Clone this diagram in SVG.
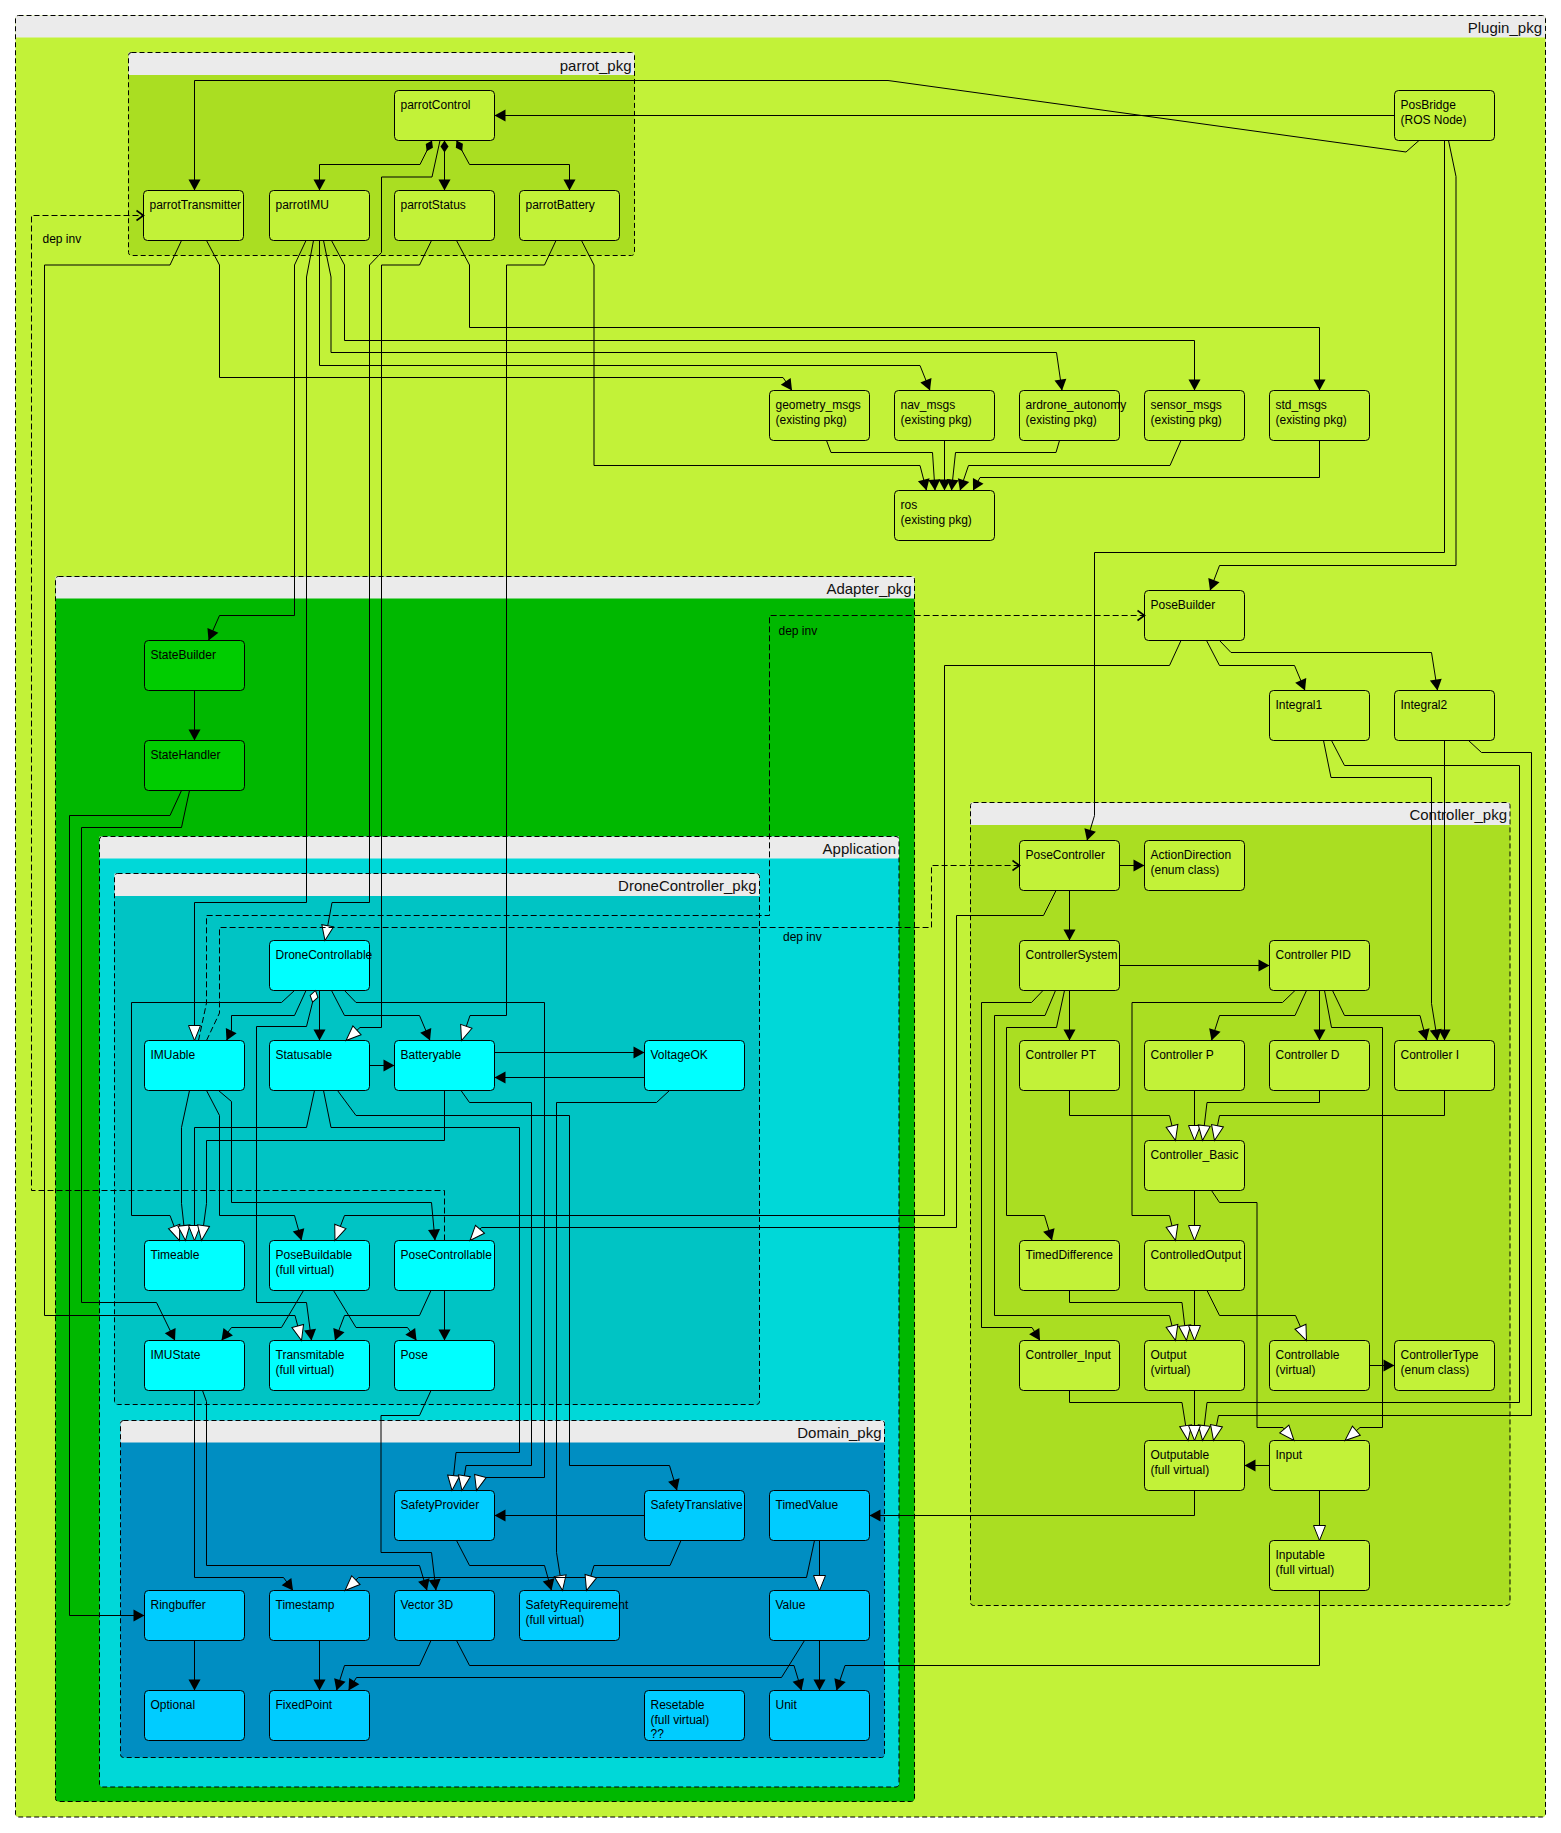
<svg xmlns="http://www.w3.org/2000/svg" width="1561" height="1833" viewBox="0 0 1561 1833">
<style>
.pb{stroke:none}
.ph{fill:#EBEBEB;stroke:none}
.pd{fill:none;stroke:#000;stroke-width:1;stroke-dasharray:5,3}
.pl{font-family:'Liberation Sans',Arial,sans-serif;font-size:15px;fill:#111;text-anchor:end}
.n rect{stroke:#000;stroke-width:1}
.n text{font-family:'Liberation Sans',Arial,sans-serif;font-size:12px;fill:#000}
.lime rect{fill:#C2F238}
.green rect{fill:#00CC00}
.cyan rect{fill:#00FFFF}
.blue rect{fill:#00CCFF}
#connectors path{fill:none;stroke:#000;stroke-width:1}
#connectors path.f{marker-end:url(#fa)}
#connectors path.o{marker-end:url(#oa)}
#connectors path.d{stroke-dasharray:6,3;marker-end:url(#sa)}
.lbl{font-family:'Liberation Sans',Arial,sans-serif;font-size:12px;fill:#000}
</style>
<defs>
<marker id="fa" markerWidth="12" markerHeight="12" refX="11" refY="6" orient="auto" markerUnits="userSpaceOnUse" overflow="visible"><path d="M0,0L11,6L0,12z" fill="#000"/></marker>
<marker id="oa" markerWidth="16" markerHeight="12" refX="15" refY="6" orient="auto" markerUnits="userSpaceOnUse" overflow="visible"><path d="M0,0L15,6L0,12z" fill="#fff" stroke="#000" stroke-width="1"/></marker>
<marker id="sa" markerWidth="8" markerHeight="10" refX="7" refY="5" orient="auto" markerUnits="userSpaceOnUse" overflow="visible"><path d="M0,0L7,5L0,10" fill="none" stroke="#000" stroke-width="1.6" stroke-dasharray="none"/></marker>
<marker id="fd" markerWidth="13" markerHeight="8" refX="0" refY="4" orient="auto" markerUnits="userSpaceOnUse" overflow="visible"><path d="M0,4L6,0L12,4L6,8z" fill="#000"/></marker>
<marker id="od" markerWidth="13" markerHeight="8" refX="0" refY="4" orient="auto" markerUnits="userSpaceOnUse" overflow="visible"><path d="M0,4L6,0L12,4L6,8z" fill="#fff" stroke="#000"/></marker>
</defs>
<rect width="1561" height="1833" fill="#fff"/>
<g id="packages">
<g id="Plugin_pkg"><rect class="pb" x="15.5" y="15.5" width="1530" height="1801.5" rx="3" fill="#C2F238"/><rect class="ph" x="15.5" y="15.5" width="1530" height="22"/><rect class="pd" x="15.5" y="15.5" width="1530" height="1801.5" rx="3"/><text class="pl" x="1542" y="33">Plugin_pkg</text></g>
<g id="parrot_pkg"><rect class="pb" x="128.5" y="52.5" width="506" height="203" rx="3" fill="#AADE22"/><rect class="ph" x="128.5" y="52.5" width="506" height="22.5"/><rect class="pd" x="128.5" y="52.5" width="506" height="203" rx="3"/><text class="pl" x="631.5" y="70.5">parrot_pkg</text></g>
<g id="Adapter_pkg"><rect class="pb" x="55.5" y="576.5" width="859" height="1225" rx="3" fill="#00B800"/><rect class="ph" x="55.5" y="576.5" width="859" height="22"/><rect class="pd" x="55.5" y="576.5" width="859" height="1225" rx="3"/><text class="pl" x="911.5" y="594">Adapter_pkg</text></g>
<g id="Application"><rect class="pb" x="99.5" y="836.5" width="799.5" height="950.5" rx="3" fill="#00D8D8"/><rect class="ph" x="99.5" y="836.5" width="799.5" height="22"/><rect class="pd" x="99.5" y="836.5" width="799.5" height="950.5" rx="3"/><text class="pl" x="896" y="854">Application</text></g>
<g id="DroneController_pkg"><rect class="pb" x="114.5" y="873.5" width="645" height="531" rx="3" fill="#00C4C4"/><rect class="ph" x="114.5" y="873.5" width="645" height="22.5"/><rect class="pd" x="114.5" y="873.5" width="645" height="531" rx="3"/><text class="pl" x="756.5" y="891">DroneController_pkg</text></g>
<g id="Domain_pkg"><rect class="pb" x="120.5" y="1420.5" width="764" height="337" rx="3" fill="#008EC2"/><rect class="ph" x="120.5" y="1420.5" width="764" height="22"/><rect class="pd" x="120.5" y="1420.5" width="764" height="337" rx="3"/><text class="pl" x="881.5" y="1438">Domain_pkg</text></g>
<g id="Controller_pkg"><rect class="pb" x="970.5" y="802.5" width="539.5" height="803" rx="3" fill="#AADE22"/><rect class="ph" x="970.5" y="802.5" width="539.5" height="22.5"/><rect class="pd" x="970.5" y="802.5" width="539.5" height="803" rx="3"/><text class="pl" x="1507" y="820">Controller_pkg</text></g>
</g>
<g id="nodes">
<g id="parrotControl" class="n lime"><rect x="394.5" y="90.5" width="100" height="50" rx="4"/><text x="400.5" y="108.5">parrotControl</text></g>
<g id="parrotTransmitter" class="n lime"><rect x="143.5" y="190.5" width="100" height="50" rx="4"/><text x="149.5" y="208.5">parrotTransmitter</text></g>
<g id="parrotIMU" class="n lime"><rect x="269.5" y="190.5" width="100" height="50" rx="4"/><text x="275.5" y="208.5">parrotIMU</text></g>
<g id="parrotStatus" class="n lime"><rect x="394.5" y="190.5" width="100" height="50" rx="4"/><text x="400.5" y="208.5">parrotStatus</text></g>
<g id="parrotBattery" class="n lime"><rect x="519.5" y="190.5" width="100" height="50" rx="4"/><text x="525.5" y="208.5">parrotBattery</text></g>
<g id="PosBridge" class="n lime"><rect x="1394.5" y="90.5" width="100" height="50" rx="4"/><text x="1400.5" y="108.5">PosBridge</text><text x="1400.5" y="123.5">(ROS Node)</text></g>
<g id="geometry_msgs" class="n lime"><rect x="769.5" y="390.5" width="100" height="50" rx="4"/><text x="775.5" y="408.5">geometry_msgs</text><text x="775.5" y="423.5">(existing pkg)</text></g>
<g id="nav_msgs" class="n lime"><rect x="894.5" y="390.5" width="100" height="50" rx="4"/><text x="900.5" y="408.5">nav_msgs</text><text x="900.5" y="423.5">(existing pkg)</text></g>
<g id="ardrone_autonomy" class="n lime"><rect x="1019.5" y="390.5" width="100" height="50" rx="4"/><text x="1025.5" y="408.5">ardrone_autonomy</text><text x="1025.5" y="423.5">(existing pkg)</text></g>
<g id="sensor_msgs" class="n lime"><rect x="1144.5" y="390.5" width="100" height="50" rx="4"/><text x="1150.5" y="408.5">sensor_msgs</text><text x="1150.5" y="423.5">(existing pkg)</text></g>
<g id="std_msgs" class="n lime"><rect x="1269.5" y="390.5" width="100" height="50" rx="4"/><text x="1275.5" y="408.5">std_msgs</text><text x="1275.5" y="423.5">(existing pkg)</text></g>
<g id="ros" class="n lime"><rect x="894.5" y="490.5" width="100" height="50" rx="4"/><text x="900.5" y="508.5">ros</text><text x="900.5" y="523.5">(existing pkg)</text></g>
<g id="PoseBuilder" class="n lime"><rect x="1144.5" y="590.5" width="100" height="50" rx="4"/><text x="1150.5" y="608.5">PoseBuilder</text></g>
<g id="Integral1" class="n lime"><rect x="1269.5" y="690.5" width="100" height="50" rx="4"/><text x="1275.5" y="708.5">Integral1</text></g>
<g id="Integral2" class="n lime"><rect x="1394.5" y="690.5" width="100" height="50" rx="4"/><text x="1400.5" y="708.5">Integral2</text></g>
<g id="StateBuilder" class="n green"><rect x="144.5" y="640.5" width="100" height="50" rx="4"/><text x="150.5" y="658.5">StateBuilder</text></g>
<g id="StateHandler" class="n green"><rect x="144.5" y="740.5" width="100" height="50" rx="4"/><text x="150.5" y="758.5">StateHandler</text></g>
<g id="DroneControllable" class="n cyan"><rect x="269.5" y="940.5" width="100" height="50" rx="4"/><text x="275.5" y="958.5">DroneControllable</text></g>
<g id="IMUable" class="n cyan"><rect x="144.5" y="1040.5" width="100" height="50" rx="4"/><text x="150.5" y="1058.5">IMUable</text></g>
<g id="Statusable" class="n cyan"><rect x="269.5" y="1040.5" width="100" height="50" rx="4"/><text x="275.5" y="1058.5">Statusable</text></g>
<g id="Batteryable" class="n cyan"><rect x="394.5" y="1040.5" width="100" height="50" rx="4"/><text x="400.5" y="1058.5">Batteryable</text></g>
<g id="VoltageOK" class="n cyan"><rect x="644.5" y="1040.5" width="100" height="50" rx="4"/><text x="650.5" y="1058.5">VoltageOK</text></g>
<g id="Timeable" class="n cyan"><rect x="144.5" y="1240.5" width="100" height="50" rx="4"/><text x="150.5" y="1258.5">Timeable</text></g>
<g id="PoseBuildable" class="n cyan"><rect x="269.5" y="1240.5" width="100" height="50" rx="4"/><text x="275.5" y="1258.5">PoseBuildable</text><text x="275.5" y="1273.5">(full virtual)</text></g>
<g id="PoseControllable" class="n cyan"><rect x="394.5" y="1240.5" width="100" height="50" rx="4"/><text x="400.5" y="1258.5">PoseControllable</text></g>
<g id="IMUState" class="n cyan"><rect x="144.5" y="1340.5" width="100" height="50" rx="4"/><text x="150.5" y="1358.5">IMUState</text></g>
<g id="Transmitable" class="n cyan"><rect x="269.5" y="1340.5" width="100" height="50" rx="4"/><text x="275.5" y="1358.5">Transmitable</text><text x="275.5" y="1373.5">(full virtual)</text></g>
<g id="Pose" class="n cyan"><rect x="394.5" y="1340.5" width="100" height="50" rx="4"/><text x="400.5" y="1358.5">Pose</text></g>
<g id="SafetyProvider" class="n blue"><rect x="394.5" y="1490.5" width="100" height="50" rx="4"/><text x="400.5" y="1508.5">SafetyProvider</text></g>
<g id="SafetyTranslative" class="n blue"><rect x="644.5" y="1490.5" width="100" height="50" rx="4"/><text x="650.5" y="1508.5">SafetyTranslative</text></g>
<g id="TimedValue" class="n blue"><rect x="769.5" y="1490.5" width="100" height="50" rx="4"/><text x="775.5" y="1508.5">TimedValue</text></g>
<g id="Ringbuffer" class="n blue"><rect x="144.5" y="1590.5" width="100" height="50" rx="4"/><text x="150.5" y="1608.5">Ringbuffer</text></g>
<g id="Timestamp" class="n blue"><rect x="269.5" y="1590.5" width="100" height="50" rx="4"/><text x="275.5" y="1608.5">Timestamp</text></g>
<g id="Vector3D" class="n blue"><rect x="394.5" y="1590.5" width="100" height="50" rx="4"/><text x="400.5" y="1608.5">Vector 3D</text></g>
<g id="SafetyRequirement" class="n blue"><rect x="519.5" y="1590.5" width="100" height="50" rx="4"/><text x="525.5" y="1608.5">SafetyRequirement</text><text x="525.5" y="1623.5">(full virtual)</text></g>
<g id="Value" class="n blue"><rect x="769.5" y="1590.5" width="100" height="50" rx="4"/><text x="775.5" y="1608.5">Value</text></g>
<g id="Optional" class="n blue"><rect x="144.5" y="1690.5" width="100" height="50" rx="4"/><text x="150.5" y="1708.5">Optional</text></g>
<g id="FixedPoint" class="n blue"><rect x="269.5" y="1690.5" width="100" height="50" rx="4"/><text x="275.5" y="1708.5">FixedPoint</text></g>
<g id="Resetable" class="n blue"><rect x="644.5" y="1690.5" width="100" height="50" rx="4"/><text x="650.5" y="1708.5">Resetable</text><text x="650.5" y="1723.5">(full virtual)</text><text x="650.5" y="1737.5">??</text></g>
<g id="Unit" class="n blue"><rect x="769.5" y="1690.5" width="100" height="50" rx="4"/><text x="775.5" y="1708.5">Unit</text></g>
<g id="PoseController" class="n lime"><rect x="1019.5" y="840.5" width="100" height="50" rx="4"/><text x="1025.5" y="858.5">PoseController</text></g>
<g id="ActionDirection" class="n lime"><rect x="1144.5" y="840.5" width="100" height="50" rx="4"/><text x="1150.5" y="858.5">ActionDirection</text><text x="1150.5" y="873.5">(enum class)</text></g>
<g id="ControllerSystem" class="n lime"><rect x="1019.5" y="940.5" width="100" height="50" rx="4"/><text x="1025.5" y="958.5">ControllerSystem</text></g>
<g id="ControllerPID" class="n lime"><rect x="1269.5" y="940.5" width="100" height="50" rx="4"/><text x="1275.5" y="958.5">Controller PID</text></g>
<g id="ControllerPT" class="n lime"><rect x="1019.5" y="1040.5" width="100" height="50" rx="4"/><text x="1025.5" y="1058.5">Controller PT</text></g>
<g id="ControllerP" class="n lime"><rect x="1144.5" y="1040.5" width="100" height="50" rx="4"/><text x="1150.5" y="1058.5">Controller P</text></g>
<g id="ControllerD" class="n lime"><rect x="1269.5" y="1040.5" width="100" height="50" rx="4"/><text x="1275.5" y="1058.5">Controller D</text></g>
<g id="ControllerI" class="n lime"><rect x="1394.5" y="1040.5" width="100" height="50" rx="4"/><text x="1400.5" y="1058.5">Controller I</text></g>
<g id="Controller_Basic" class="n lime"><rect x="1144.5" y="1140.5" width="100" height="50" rx="4"/><text x="1150.5" y="1158.5">Controller_Basic</text></g>
<g id="TimedDifference" class="n lime"><rect x="1019.5" y="1240.5" width="100" height="50" rx="4"/><text x="1025.5" y="1258.5">TimedDifference</text></g>
<g id="ControlledOutput" class="n lime"><rect x="1144.5" y="1240.5" width="100" height="50" rx="4"/><text x="1150.5" y="1258.5">ControlledOutput</text></g>
<g id="Controller_Input" class="n lime"><rect x="1019.5" y="1340.5" width="100" height="50" rx="4"/><text x="1025.5" y="1358.5">Controller_Input</text></g>
<g id="Output" class="n lime"><rect x="1144.5" y="1340.5" width="100" height="50" rx="4"/><text x="1150.5" y="1358.5">Output</text><text x="1150.5" y="1373.5">(virtual)</text></g>
<g id="Controllable" class="n lime"><rect x="1269.5" y="1340.5" width="100" height="50" rx="4"/><text x="1275.5" y="1358.5">Controllable</text><text x="1275.5" y="1373.5">(virtual)</text></g>
<g id="ControllerType" class="n lime"><rect x="1394.5" y="1340.5" width="100" height="50" rx="4"/><text x="1400.5" y="1358.5">ControllerType</text><text x="1400.5" y="1373.5">(enum class)</text></g>
<g id="Outputable" class="n lime"><rect x="1144.5" y="1440.5" width="100" height="50" rx="4"/><text x="1150.5" y="1458.5">Outputable</text><text x="1150.5" y="1473.5">(full virtual)</text></g>
<g id="Input" class="n lime"><rect x="1269.5" y="1440.5" width="100" height="50" rx="4"/><text x="1275.5" y="1458.5">Input</text></g>
<g id="Inputable" class="n lime"><rect x="1269.5" y="1540.5" width="100" height="50" rx="4"/><text x="1275.5" y="1558.5">Inputable</text><text x="1275.5" y="1573.5">(full virtual)</text></g>
</g>
<g id="connectors">
<path class="f" d="M1419,140.5L1406,152L888,80.5L194.5,80.5L194.5,190.5"/>
<path class="f" d="M1394.5,115.5L494.5,115.5"/>
<path class="f" marker-start="url(#fd)" d="M432,140.5L420,164.5L319.5,164.5L319.5,190.5"/>
<path class="f" marker-start="url(#fd)" d="M444.5,140.5L444.5,190.5"/>
<path class="f" marker-start="url(#fd)" d="M456.5,140.5L469.5,164.5L569.5,164.5L569.5,190.5"/>
<path class="o" d="M440,140.5L432,177L381.5,177L381.5,252.5L369.5,265L369.5,902.5L332,902.5L325,940.5"/>
<path class="o" d="M431.5,240.5L419.5,265L381.5,265L381.5,1027.5L360,1027.5L346,1040.5"/>
<path class="f" d="M456.5,240.5L469.5,265L469.5,327.5L1319.5,327.5L1319.5,390.5"/>
<path class="o" d="M181.5,240.5L170,265L44.5,265L44.5,1315.5L295,1315.5L301.5,1340.5"/>
<path class="f" d="M206.5,240.5L219.5,265L219.5,377.5L783,377.5L792,390.5"/>
<path class="f" d="M306,240.5L294.5,265L294.5,615.5L219.5,615.5L208.5,640.5"/>
<path class="o" d="M313.5,240.5L306.5,277L306.5,902.5L194.5,902.5L194.5,1040.5"/>
<path class="f" d="M319.5,240.5L319.5,365.5L920,365.5L930,390.5"/>
<path class="f" d="M323.5,240.5L331,277L331,352.5L1056.5,352.5L1062,390.5"/>
<path class="f" d="M331.5,240.5L344.5,265L344.5,340.5L1194.5,340.5L1194.5,390.5"/>
<path class="o" d="M556,240.5L544.5,265L506.5,265L506.5,1015.5L470,1015.5L461.5,1040.5"/>
<path class="f" d="M581.5,240.5L594,265L594,465.5L920,465.5L926.5,490.5"/>
<path class="f" d="M826.5,440.5L831,452.5L932.5,452.5L935,490.5"/>
<path class="f" d="M944.5,440.5L944.5,490.5"/>
<path class="f" d="M1059.5,440.5L1056,452.5L955.5,452.5L951.5,490.5"/>
<path class="f" d="M1181,440.5L1170,465.5L968.5,465.5L960,490.5"/>
<path class="f" d="M1319.5,440.5L1319.5,477.5L980,477.5L973,490.5"/>
<path class="f" d="M1444.5,140.5L1444.5,552.5L1094.5,552.5L1094.5,815.5L1087,840.5"/>
<path class="f" d="M1448.5,140.5L1456,176.5L1456,565.5L1219.5,565.5L1210,590.5"/>
<path class="o" d="M1181,640.5L1169.5,665.5L944.5,665.5L944.5,1215.5L344.5,1215.5L335,1240.5"/>
<path class="f" d="M1206.5,640.5L1219.5,665.5L1294.5,665.5L1305,690.5"/>
<path class="f" d="M1219.5,640.5L1231,652.5L1431.5,652.5L1437.5,690.5"/>
<path class="f" d="M1323.5,740.5L1331,777.5L1431.5,777.5L1431.5,1003.5L1437.5,1040.5"/>
<path class="f" d="M1444.5,740.5L1444.5,1040.5"/>
<path class="o" d="M1331.5,740.5L1344.5,765.5L1519.5,765.5L1519.5,1402.5L1207,1402.5L1202.5,1440.5"/>
<path class="o" d="M1468.5,740.5L1481.5,752.5L1531.5,752.5L1531.5,1415.5L1218.5,1415.5L1213.5,1440.5"/>
<path class="d" d="M198.5,1040.5L206.5,1003L206.5,915.5L769.5,915.5L769.5,615.5L1144.5,615.5"/>
<path class="d" d="M206.5,1040.5L219.5,1013L219.5,927.5L931.5,927.5L931.5,865.5L1019.5,865.5"/>
<path class="d" d="M444.5,1240.5L444.5,1190.5L31.5,1190.5L31.5,215.5L143.5,215.5"/>
<path class="f" d="M194.5,690.5L194.5,740.5"/>
<path class="f" d="M181.5,790.5L170,815.5L69.5,815.5L69.5,1615.5L144.5,1615.5"/>
<path class="f" d="M189.5,790.5L181.5,827.5L81.5,827.5L81.5,1302.5L156.5,1302.5L175,1340.5"/>
<path class="o" d="M294.5,990.5L281.5,1002.5L131.5,1002.5L131.5,1215.5L170,1215.5L179.5,1240.5"/>
<path class="f" d="M306,990.5L294.5,1015.5L231.5,1015.5L231.5,1030L226.5,1040.5"/>
<path class="f" marker-start="url(#od)" d="M315.5,990.5L306.5,1026.5L256.5,1026.5L256.5,1302.5L306.5,1302.5L311.5,1340.5"/>
<path class="f" d="M319.5,990.5L319.5,1040.5"/>
<path class="f" d="M331.5,990.5L344.5,1015.5L419.5,1015.5L430,1040.5"/>
<path class="o" d="M344.5,990.5L356,1002.5L544.5,1002.5L544.5,1477.5L480,1477.5L476.5,1490.5"/>
<path class="f" d="M369.5,1065.5L394.5,1065.5"/>
<path class="f" d="M494.5,1052.5L644.5,1052.5"/>
<path class="f" d="M644.5,1077.5L494.5,1077.5"/>
<path class="o" d="M189.5,1090.5L181.5,1127.5L181.5,1203.5L185.5,1240.5"/>
<path class="f" d="M206.5,1090.5L219.5,1115.5L219.5,1215.5L294.5,1215.5L301.5,1240.5"/>
<path class="f" d="M218.5,1090.5L231.5,1101.5L231.5,1202.5L431.5,1202.5L435,1240.5"/>
<path class="o" d="M314.5,1090.5L306.5,1127.5L194.5,1127.5L194.5,1240.5"/>
<path class="o" d="M323.5,1090.5L331,1127.5L519.5,1127.5L519.5,1452.5L456,1452.5L452,1490.5"/>
<path class="f" d="M337.5,1090.5L356,1115.5L569.5,1115.5L569.5,1465.5L669.5,1465.5L677,1490.5"/>
<path class="o" d="M444.5,1090.5L444.5,1140.5L206.5,1140.5L206.5,1203.5L201.5,1240.5"/>
<path class="o" d="M461,1090.5L469.5,1102.5L531.5,1102.5L531.5,1465.5L466,1465.5L462,1490.5"/>
<path class="o" d="M669.5,1090.5L656.5,1102.5L556.5,1102.5L556.5,1552.5L562.5,1590.5"/>
<path class="f" d="M303.5,1290.5L281.5,1327.5L231.5,1327.5L221.5,1340.5"/>
<path class="f" d="M333.5,1290.5L356,1327.5L407.5,1327.5L416.5,1340.5"/>
<path class="f" d="M431,1290.5L419.5,1315.5L344.5,1315.5L335,1340.5"/>
<path class="f" d="M444.5,1290.5L444.5,1340.5"/>
<path class="o" d="M1056,890.5L1043.5,915.5L956.5,915.5L956.5,1227.5L481.5,1227.5L470,1240.5"/>
<path class="f" d="M431,1390.5L419.5,1415.5L381,1415.5L381,1552.5L431.5,1552.5L436,1590.5"/>
<path class="f" d="M194.5,1390.5L194.5,1577.5L283.5,1577.5L293,1590.5"/>
<path class="f" d="M202.5,1390.5L206.5,1401.5L206.5,1565.5L419.5,1565.5L427,1590.5"/>
<path class="o" d="M814.5,1540.5L806.5,1577.5L358.5,1577.5L345,1590.5"/>
<path class="f" d="M456.5,1540.5L469.5,1565.5L544.5,1565.5L551.5,1590.5"/>
<path class="o" d="M681,1540.5L670,1565.5L594,1565.5L586.5,1590.5"/>
<path class="f" d="M644.5,1515.5L494.5,1515.5"/>
<path class="o" d="M819.5,1540.5L819.5,1590.5"/>
<path class="f" d="M194.5,1640.5L194.5,1690.5"/>
<path class="f" d="M319.5,1640.5L319.5,1690.5"/>
<path class="f" d="M431,1640.5L419.5,1665.5L344.5,1665.5L336.5,1690.5"/>
<path class="f" d="M804.5,1640.5L781.5,1677.5L356.5,1677.5L348.5,1690.5"/>
<path class="f" d="M456.5,1640.5L469.5,1665.5L794,1665.5L801.5,1690.5"/>
<path class="f" d="M819.5,1640.5L819.5,1690.5"/>
<path class="f" d="M1319.5,1590.5L1319.5,1665.5L845,1665.5L836.5,1690.5"/>
<path class="f" d="M1194.5,1490.5L1194.5,1515.5L869.5,1515.5"/>
<path class="f" d="M1119.5,865.5L1144.5,865.5"/>
<path class="f" d="M1069.5,890.5L1069.5,940.5"/>
<path class="f" d="M1119.5,965.5L1269.5,965.5"/>
<path class="f" d="M1069.5,990.5L1069.5,1040.5"/>
<path class="f" d="M1043,990.5L1031.5,1002.5L981.5,1002.5L981.5,1327.5L1032,1327.5L1040,1340.5"/>
<path class="o" d="M1055.5,990.5L1045,1015.5L994.5,1015.5L994.5,1315.5L1169.5,1315.5L1175.5,1340.5"/>
<path class="f" d="M1064.5,990.5L1056.5,1027.5L1006.5,1027.5L1006.5,1215.5L1044.5,1215.5L1052,1240.5"/>
<path class="o" d="M1295,990.5L1282.5,1002.5L1132,1002.5L1132,1215.5L1169.5,1215.5L1175.5,1240.5"/>
<path class="f" d="M1306.5,990.5L1295,1015.5L1219.5,1015.5L1211.5,1040.5"/>
<path class="f" d="M1319.5,990.5L1319.5,1040.5"/>
<path class="o" d="M1324.5,990.5L1331.5,1027.5L1382.5,1027.5L1382.5,1427.5L1360,1427.5L1345,1440.5"/>
<path class="f" d="M1332.5,990.5L1344.5,1015.5L1420,1015.5L1426.5,1040.5"/>
<path class="o" d="M1069.5,1090.5L1069.5,1115.5L1169.5,1115.5L1175.5,1140.5"/>
<path class="o" d="M1194.5,1090.5L1194.5,1140.5"/>
<path class="o" d="M1319.5,1090.5L1319.5,1102.5L1207,1102.5L1202.5,1140.5"/>
<path class="o" d="M1444.5,1090.5L1444.5,1115.5L1219.5,1115.5L1214.5,1140.5"/>
<path class="o" d="M1194.5,1190.5L1194.5,1240.5"/>
<path class="o" d="M1211.5,1190.5L1219.5,1202.5L1257,1202.5L1257,1427.5L1283,1427.5L1294,1440.5"/>
<path class="o" d="M1069.5,1290.5L1069.5,1302.5L1182,1302.5L1186.5,1340.5"/>
<path class="o" d="M1194.5,1290.5L1194.5,1340.5"/>
<path class="o" d="M1207,1290.5L1219.5,1315.5L1295.5,1315.5L1306.5,1340.5"/>
<path class="f" d="M1369.5,1365.5L1394.5,1365.5"/>
<path class="o" d="M1069.5,1390.5L1069.5,1402.5L1182,1402.5L1188,1440.5"/>
<path class="o" d="M1194.5,1390.5L1194.5,1440.5"/>
<path class="f" d="M1269.5,1465.5L1244.5,1465.5"/>
<path class="o" d="M1319.5,1490.5L1319.5,1540.5"/>
</g>
<g id="labels">
<text class="lbl" x="42.5" y="243">dep inv</text>
<text class="lbl" x="778.5" y="635">dep inv</text>
<text class="lbl" x="783" y="941">dep inv</text>
</g>
</svg>
